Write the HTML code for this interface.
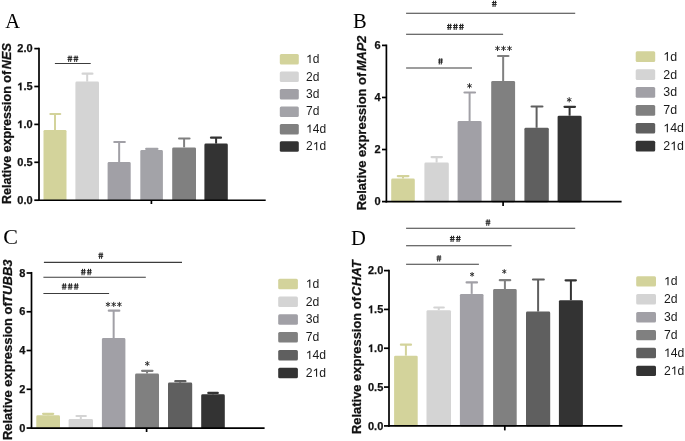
<!DOCTYPE html>
<html><head><meta charset="utf-8"><style>
html,body{margin:0;padding:0;background:#fff;}
svg{display:block;will-change:transform;}
</style></head><body>
<svg width="685" height="441" viewBox="0 0 685 441">
<rect x="0" y="0" width="685" height="441" fill="#fff"/>
<text transform="translate(5.20,28.00)" font-family='"Liberation Serif", serif' font-size="20.5" font-weight="normal" text-anchor="start" fill="#000" >A</text>
<rect x="43.50" y="129.90" width="23.00" height="70.95" fill="#d3d39b" rx="1.4"/>
<line x1="55.00" y1="129.90" x2="55.00" y2="114.00" stroke="#d3d39b" stroke-width="2.0"/>
<line x1="50.40" y1="114.00" x2="60.20" y2="114.00" stroke="#d3d39b" stroke-width="2.2" stroke-linecap="round"/>
<rect x="75.40" y="81.60" width="23.60" height="119.25" fill="#d4d4d4" rx="1.4"/>
<line x1="87.20" y1="81.60" x2="87.20" y2="73.70" stroke="#d4d4d4" stroke-width="2.0"/>
<line x1="82.60" y1="73.70" x2="92.40" y2="73.70" stroke="#d4d4d4" stroke-width="2.2" stroke-linecap="round"/>
<rect x="107.60" y="162.00" width="23.10" height="38.85" fill="#a1a0a6" rx="1.4"/>
<line x1="119.15" y1="162.00" x2="119.15" y2="142.00" stroke="#a1a0a6" stroke-width="2.0"/>
<line x1="114.30" y1="142.00" x2="124.80" y2="142.00" stroke="#a1a0a6" stroke-width="2.2" stroke-linecap="round"/>
<rect x="140.30" y="150.00" width="22.60" height="50.85" fill="#a3a3a8" rx="1.4"/>
<line x1="151.60" y1="150.00" x2="151.60" y2="148.90" stroke="#a3a3a8" stroke-width="2.0"/>
<line x1="146.20" y1="148.90" x2="157.40" y2="148.90" stroke="#a3a3a8" stroke-width="2.2" stroke-linecap="round"/>
<rect x="172.20" y="147.40" width="23.80" height="53.45" fill="#808080" rx="1.4"/>
<line x1="184.10" y1="147.40" x2="184.10" y2="138.50" stroke="#808080" stroke-width="2.0"/>
<line x1="179.10" y1="138.50" x2="189.50" y2="138.50" stroke="#808080" stroke-width="2.2" stroke-linecap="round"/>
<rect x="204.40" y="143.60" width="23.40" height="57.25" fill="#333333" rx="1.4"/>
<line x1="216.10" y1="143.60" x2="216.10" y2="137.70" stroke="#333333" stroke-width="2.0"/>
<line x1="211.00" y1="137.70" x2="221.00" y2="137.70" stroke="#333333" stroke-width="2.2" stroke-linecap="round"/>
<line x1="39.00" y1="47.65" x2="39.00" y2="201.10" stroke="#000" stroke-width="1.7"/>
<line x1="38.15" y1="200.25" x2="265.70" y2="200.25" stroke="#000" stroke-width="1.7"/>
<line x1="34.30" y1="48.60" x2="39.00" y2="48.60" stroke="#000" stroke-width="1.7"/>
<text transform="translate(32.60,52.30)" font-family='"Liberation Sans", sans-serif' font-size="11.0" font-weight="bold" text-anchor="end" fill="#111" stroke="#111" stroke-width="0.25">2.0</text>
<line x1="34.30" y1="86.50" x2="39.00" y2="86.50" stroke="#000" stroke-width="1.7"/>
<path transform="translate(32.60,90.20) translate(-15.292,0) scale(0.005371,-0.005371)" d="M775,0L495,0L495,1030L165,860L165,1110L560,1409L775,1409Z" fill="#111" stroke="#111" stroke-width="46.55"/>
<text transform="translate(32.60,90.20)" font-family='"Liberation Sans", sans-serif' font-size="11.0" font-weight="bold" text-anchor="end" fill="#111" stroke="#111" stroke-width="0.25"> .5</text>
<line x1="34.30" y1="124.40" x2="39.00" y2="124.40" stroke="#000" stroke-width="1.7"/>
<path transform="translate(32.60,128.10) translate(-15.292,0) scale(0.005371,-0.005371)" d="M775,0L495,0L495,1030L165,860L165,1110L560,1409L775,1409Z" fill="#111" stroke="#111" stroke-width="46.55"/>
<text transform="translate(32.60,128.10)" font-family='"Liberation Sans", sans-serif' font-size="11.0" font-weight="bold" text-anchor="end" fill="#111" stroke="#111" stroke-width="0.25"> .0</text>
<line x1="34.30" y1="162.30" x2="39.00" y2="162.30" stroke="#000" stroke-width="1.7"/>
<text transform="translate(32.60,166.00)" font-family='"Liberation Sans", sans-serif' font-size="11.0" font-weight="bold" text-anchor="end" fill="#111" stroke="#111" stroke-width="0.25">0.5</text>
<line x1="34.30" y1="200.20" x2="39.00" y2="200.20" stroke="#000" stroke-width="1.7"/>
<text transform="translate(32.60,203.90)" font-family='"Liberation Sans", sans-serif' font-size="11.0" font-weight="bold" text-anchor="end" fill="#111" stroke="#111" stroke-width="0.25">0.0</text>
<line x1="151.40" y1="200.25" x2="151.40" y2="204.00" stroke="#000" stroke-width="1.7"/>
<line x1="54.90" y1="63.50" x2="90.70" y2="63.50" stroke="#3c3c3c" stroke-width="1.1"/>
<path d="M69.20,55.60L68.60,61.90M71.20,55.60L70.60,61.90M75.20,55.60L74.60,61.90M77.20,55.60L76.60,61.90" stroke="#262626" stroke-width="1.05" fill="none"/>
<path d="M67.50,57.43L72.30,57.43M67.50,59.44L72.30,59.44M73.50,57.43L78.30,57.43M73.50,59.44L78.30,59.44" stroke="#262626" stroke-width="1.0" fill="none"/>
<rect x="279.80" y="54.10" width="19.00" height="10.50" fill="#d3d39b" rx="1.5"/>
<path transform="translate(306.10,63.05) translate(0.000,0) scale(0.005859,-0.005859)" d="M760,0L580,0L580,1140L218,930L218,1100L640,1409L760,1409Z" fill="#1a1a1a" />
<text transform="translate(306.10,63.05)" font-family='"Liberation Sans", sans-serif' font-size="12" font-weight="normal" text-anchor="start" fill="#1a1a1a" > d</text>
<rect x="279.80" y="71.55" width="19.00" height="10.50" fill="#d4d4d4" rx="1.5"/>
<text transform="translate(306.10,80.50)" font-family='"Liberation Sans", sans-serif' font-size="12" font-weight="normal" text-anchor="start" fill="#1a1a1a" >2d</text>
<rect x="279.80" y="89.00" width="19.00" height="10.50" fill="#a1a0a6" rx="1.5"/>
<text transform="translate(306.10,97.95)" font-family='"Liberation Sans", sans-serif' font-size="12" font-weight="normal" text-anchor="start" fill="#1a1a1a" >3d</text>
<rect x="279.80" y="106.45" width="19.00" height="10.50" fill="#a3a3a8" rx="1.5"/>
<text transform="translate(306.10,115.40)" font-family='"Liberation Sans", sans-serif' font-size="12" font-weight="normal" text-anchor="start" fill="#1a1a1a" >7d</text>
<rect x="279.80" y="123.90" width="19.00" height="10.50" fill="#808080" rx="1.5"/>
<path transform="translate(306.10,132.85) translate(0.000,0) scale(0.005859,-0.005859)" d="M760,0L580,0L580,1140L218,930L218,1100L640,1409L760,1409Z" fill="#1a1a1a" />
<text transform="translate(306.10,132.85)" font-family='"Liberation Sans", sans-serif' font-size="12" font-weight="normal" text-anchor="start" fill="#1a1a1a" > 4d</text>
<rect x="279.80" y="141.35" width="19.00" height="10.50" fill="#333333" rx="1.5"/>
<path transform="translate(306.10,150.30) translate(6.674,0) scale(0.005859,-0.005859)" d="M760,0L580,0L580,1140L218,930L218,1100L640,1409L760,1409Z" fill="#1a1a1a" />
<text transform="translate(306.10,150.30)" font-family='"Liberation Sans", sans-serif' font-size="12" font-weight="normal" text-anchor="start" fill="#1a1a1a" >2 d</text>
<text transform="translate(10.70,204.01) rotate(-90)" font-family='"Liberation Sans", sans-serif' font-size="12.56" font-weight="bold" fill="#111" stroke="#111" stroke-width="0.25">Relative expression of</text>
<text transform="translate(10.70,69.21) rotate(-90)" font-family='"Liberation Sans", sans-serif' font-size="12.68" font-weight="bold" font-style="italic" fill="#111" stroke="#111" stroke-width="0.25">NES</text>
<text transform="translate(353.00,27.50)" font-family='"Liberation Serif", serif' font-size="20.5" font-weight="normal" text-anchor="start" fill="#000" >B</text>
<rect x="391.20" y="178.60" width="23.60" height="23.60" fill="#d3d39b" rx="1.4"/>
<line x1="403.00" y1="178.60" x2="403.00" y2="176.10" stroke="#d3d39b" stroke-width="2.0"/>
<line x1="397.80" y1="176.10" x2="408.40" y2="176.10" stroke="#d3d39b" stroke-width="2.2" stroke-linecap="round"/>
<rect x="424.40" y="162.60" width="24.40" height="39.60" fill="#d4d4d4" rx="1.4"/>
<line x1="436.60" y1="162.60" x2="436.60" y2="157.10" stroke="#d4d4d4" stroke-width="2.0"/>
<line x1="431.60" y1="157.10" x2="441.90" y2="157.10" stroke="#d4d4d4" stroke-width="2.2" stroke-linecap="round"/>
<rect x="457.60" y="121.00" width="24.00" height="81.20" fill="#a1a0a6" rx="1.4"/>
<line x1="469.60" y1="121.00" x2="469.60" y2="92.50" stroke="#a1a0a6" stroke-width="2.0"/>
<line x1="464.50" y1="92.50" x2="475.00" y2="92.50" stroke="#a1a0a6" stroke-width="2.2" stroke-linecap="round"/>
<rect x="491.20" y="81.00" width="23.90" height="121.20" fill="#808080" rx="1.4"/>
<line x1="503.15" y1="81.00" x2="503.15" y2="56.00" stroke="#808080" stroke-width="2.0"/>
<line x1="498.00" y1="56.00" x2="508.40" y2="56.00" stroke="#808080" stroke-width="2.2" stroke-linecap="round"/>
<rect x="524.40" y="127.80" width="24.40" height="74.40" fill="#5f5f5f" rx="1.4"/>
<line x1="536.60" y1="127.80" x2="536.60" y2="106.50" stroke="#5f5f5f" stroke-width="2.0"/>
<line x1="531.60" y1="106.50" x2="542.40" y2="106.50" stroke="#5f5f5f" stroke-width="2.2" stroke-linecap="round"/>
<rect x="557.60" y="115.70" width="24.00" height="86.50" fill="#333333" rx="1.4"/>
<line x1="569.60" y1="115.70" x2="569.60" y2="106.80" stroke="#333333" stroke-width="2.0"/>
<line x1="564.50" y1="106.80" x2="575.00" y2="106.80" stroke="#333333" stroke-width="2.2" stroke-linecap="round"/>
<line x1="386.40" y1="44.55" x2="386.40" y2="202.45" stroke="#000" stroke-width="1.7"/>
<line x1="385.55" y1="201.60" x2="621.60" y2="201.60" stroke="#000" stroke-width="1.7"/>
<line x1="382.00" y1="45.40" x2="386.40" y2="45.40" stroke="#000" stroke-width="1.7"/>
<text transform="translate(380.70,49.10)" font-family='"Liberation Sans", sans-serif' font-size="11.0" font-weight="bold" text-anchor="end" fill="#111" stroke="#111" stroke-width="0.25">6</text>
<line x1="382.00" y1="97.47" x2="386.40" y2="97.47" stroke="#000" stroke-width="1.7"/>
<text transform="translate(380.70,101.17)" font-family='"Liberation Sans", sans-serif' font-size="11.0" font-weight="bold" text-anchor="end" fill="#111" stroke="#111" stroke-width="0.25">4</text>
<line x1="382.00" y1="149.53" x2="386.40" y2="149.53" stroke="#000" stroke-width="1.7"/>
<text transform="translate(380.70,153.23)" font-family='"Liberation Sans", sans-serif' font-size="11.0" font-weight="bold" text-anchor="end" fill="#111" stroke="#111" stroke-width="0.25">2</text>
<line x1="382.00" y1="201.60" x2="386.40" y2="201.60" stroke="#000" stroke-width="1.7"/>
<text transform="translate(380.70,205.30)" font-family='"Liberation Sans", sans-serif' font-size="11.0" font-weight="bold" text-anchor="end" fill="#111" stroke="#111" stroke-width="0.25">0</text>
<line x1="503.10" y1="201.60" x2="503.10" y2="206.00" stroke="#000" stroke-width="1.7"/>
<line x1="406.10" y1="13.20" x2="575.20" y2="13.20" stroke="#3c3c3c" stroke-width="1.1"/>
<line x1="406.10" y1="34.30" x2="503.10" y2="34.30" stroke="#3c3c3c" stroke-width="1.1"/>
<line x1="406.10" y1="68.00" x2="472.00" y2="68.00" stroke="#3c3c3c" stroke-width="1.1"/>
<path d="M493.60,0.70L493.00,7.00M495.60,0.70L495.00,7.00" stroke="#262626" stroke-width="1.05" fill="none"/>
<path d="M491.90,2.53L496.70,2.53M491.90,4.54L496.70,4.54" stroke="#262626" stroke-width="1.0" fill="none"/>
<path d="M448.70,23.70L448.10,30.00M450.70,23.70L450.10,30.00M454.70,23.70L454.10,30.00M456.70,23.70L456.10,30.00M460.70,23.70L460.10,30.00M462.70,23.70L462.10,30.00" stroke="#262626" stroke-width="1.05" fill="none"/>
<path d="M447.00,25.53L451.80,25.53M447.00,27.54L451.80,27.54M453.00,25.53L457.80,25.53M453.00,27.54L457.80,27.54M459.00,25.53L463.80,25.53M459.00,27.54L463.80,27.54" stroke="#262626" stroke-width="1.0" fill="none"/>
<path d="M439.80,58.20L439.20,64.50M441.80,58.20L441.20,64.50" stroke="#262626" stroke-width="1.05" fill="none"/>
<path d="M438.10,60.03L442.90,60.03M438.10,62.04L442.90,62.04" stroke="#262626" stroke-width="1.0" fill="none"/>
<path d="M469.50,83.20L469.50,88.40M467.25,84.50L471.75,87.10M471.75,84.50L467.25,87.10" stroke="#2a2a2a" stroke-width="0.95" fill="none"/>
<path d="M497.50,45.80L497.50,51.00M495.25,47.10L499.75,49.70M499.75,47.10L495.25,49.70" stroke="#2a2a2a" stroke-width="0.95" fill="none"/>
<path d="M503.50,45.80L503.50,51.00M501.25,47.10L505.75,49.70M505.75,47.10L501.25,49.70" stroke="#2a2a2a" stroke-width="0.95" fill="none"/>
<path d="M509.50,45.80L509.50,51.00M507.25,47.10L511.75,49.70M511.75,47.10L507.25,49.70" stroke="#2a2a2a" stroke-width="0.95" fill="none"/>
<path d="M569.20,97.20L569.20,102.40M566.95,98.50L571.45,101.10M571.45,98.50L566.95,101.10" stroke="#2a2a2a" stroke-width="0.95" fill="none"/>
<rect x="635.70" y="51.30" width="19.50" height="10.70" fill="#d3d39b" rx="1.5"/>
<path transform="translate(663.30,60.65) translate(0.000,0) scale(0.006055,-0.006055)" d="M760,0L580,0L580,1140L218,930L218,1100L640,1409L760,1409Z" fill="#1a1a1a" />
<text transform="translate(663.30,60.65)" font-family='"Liberation Sans", sans-serif' font-size="12.4" font-weight="normal" text-anchor="start" fill="#1a1a1a" > d</text>
<rect x="635.70" y="69.20" width="19.50" height="10.70" fill="#d4d4d4" rx="1.5"/>
<text transform="translate(663.30,78.55)" font-family='"Liberation Sans", sans-serif' font-size="12.4" font-weight="normal" text-anchor="start" fill="#1a1a1a" >2d</text>
<rect x="635.70" y="87.10" width="19.50" height="10.70" fill="#a1a0a6" rx="1.5"/>
<text transform="translate(663.30,96.45)" font-family='"Liberation Sans", sans-serif' font-size="12.4" font-weight="normal" text-anchor="start" fill="#1a1a1a" >3d</text>
<rect x="635.70" y="105.00" width="19.50" height="10.70" fill="#808080" rx="1.5"/>
<text transform="translate(663.30,114.35)" font-family='"Liberation Sans", sans-serif' font-size="12.4" font-weight="normal" text-anchor="start" fill="#1a1a1a" >7d</text>
<rect x="635.70" y="122.90" width="19.50" height="10.70" fill="#5f5f5f" rx="1.5"/>
<path transform="translate(663.30,132.25) translate(0.000,0) scale(0.006055,-0.006055)" d="M760,0L580,0L580,1140L218,930L218,1100L640,1409L760,1409Z" fill="#1a1a1a" />
<text transform="translate(663.30,132.25)" font-family='"Liberation Sans", sans-serif' font-size="12.4" font-weight="normal" text-anchor="start" fill="#1a1a1a" > 4d</text>
<rect x="635.70" y="140.80" width="19.50" height="10.70" fill="#333333" rx="1.5"/>
<path transform="translate(663.30,150.15) translate(6.896,0) scale(0.006055,-0.006055)" d="M760,0L580,0L580,1140L218,930L218,1100L640,1409L760,1409Z" fill="#1a1a1a" />
<text transform="translate(663.30,150.15)" font-family='"Liberation Sans", sans-serif' font-size="12.4" font-weight="normal" text-anchor="start" fill="#1a1a1a" >2 d</text>
<text transform="translate(366.40,210.32) rotate(-90)" font-family='"Liberation Sans", sans-serif' font-size="12.97" font-weight="bold" fill="#111" stroke="#111" stroke-width="0.25">Relative expression of</text>
<text transform="translate(366.40,71.12) rotate(-90)" font-family='"Liberation Sans", sans-serif' font-size="12.78" font-weight="bold" font-style="italic" fill="#111" stroke="#111" stroke-width="0.25">MAP2</text>
<text transform="translate(3.30,244.40)" font-family='"Liberation Serif", serif' font-size="22" font-weight="normal" text-anchor="start" fill="#000" >C</text>
<rect x="36.30" y="415.30" width="23.70" height="13.35" fill="#d3d39b" rx="1.4"/>
<line x1="48.15" y1="415.30" x2="48.15" y2="413.80" stroke="#d3d39b" stroke-width="2.0"/>
<line x1="43.10" y1="413.80" x2="53.20" y2="413.80" stroke="#d3d39b" stroke-width="2.2" stroke-linecap="round"/>
<rect x="68.60" y="419.00" width="24.40" height="9.65" fill="#d4d4d4" rx="1.4"/>
<line x1="80.80" y1="419.00" x2="80.80" y2="416.00" stroke="#d4d4d4" stroke-width="2.0"/>
<line x1="76.50" y1="416.00" x2="85.80" y2="416.00" stroke="#d4d4d4" stroke-width="2.2" stroke-linecap="round"/>
<rect x="101.90" y="338.00" width="23.50" height="90.65" fill="#a1a0a6" rx="1.4"/>
<line x1="113.65" y1="338.00" x2="113.65" y2="310.70" stroke="#a1a0a6" stroke-width="2.0"/>
<line x1="108.80" y1="310.70" x2="119.30" y2="310.70" stroke="#a1a0a6" stroke-width="2.2" stroke-linecap="round"/>
<rect x="135.10" y="373.50" width="23.90" height="55.15" fill="#808080" rx="1.4"/>
<line x1="147.05" y1="373.50" x2="147.05" y2="370.80" stroke="#808080" stroke-width="2.0"/>
<line x1="142.10" y1="370.80" x2="152.50" y2="370.80" stroke="#808080" stroke-width="2.2" stroke-linecap="round"/>
<rect x="168.00" y="382.60" width="24.20" height="46.05" fill="#5f5f5f" rx="1.4"/>
<line x1="180.10" y1="382.60" x2="180.10" y2="381.20" stroke="#5f5f5f" stroke-width="2.0"/>
<line x1="175.30" y1="381.20" x2="185.40" y2="381.20" stroke="#5f5f5f" stroke-width="2.2" stroke-linecap="round"/>
<rect x="201.20" y="394.30" width="23.60" height="34.35" fill="#333333" rx="1.4"/>
<line x1="213.00" y1="394.30" x2="213.00" y2="392.90" stroke="#333333" stroke-width="2.0"/>
<line x1="208.30" y1="392.90" x2="217.80" y2="392.90" stroke="#333333" stroke-width="2.2" stroke-linecap="round"/>
<line x1="31.50" y1="271.95" x2="31.50" y2="428.90" stroke="#000" stroke-width="1.7"/>
<line x1="30.65" y1="428.05" x2="264.60" y2="428.05" stroke="#000" stroke-width="1.7"/>
<line x1="26.60" y1="273.00" x2="31.50" y2="273.00" stroke="#000" stroke-width="1.7"/>
<text transform="translate(25.40,276.70)" font-family='"Liberation Sans", sans-serif' font-size="11.0" font-weight="bold" text-anchor="end" fill="#111" stroke="#111" stroke-width="0.25">8</text>
<line x1="26.60" y1="311.76" x2="31.50" y2="311.76" stroke="#000" stroke-width="1.7"/>
<text transform="translate(25.40,315.46)" font-family='"Liberation Sans", sans-serif' font-size="11.0" font-weight="bold" text-anchor="end" fill="#111" stroke="#111" stroke-width="0.25">6</text>
<line x1="26.60" y1="350.52" x2="31.50" y2="350.52" stroke="#000" stroke-width="1.7"/>
<text transform="translate(25.40,354.22)" font-family='"Liberation Sans", sans-serif' font-size="11.0" font-weight="bold" text-anchor="end" fill="#111" stroke="#111" stroke-width="0.25">4</text>
<line x1="26.60" y1="389.29" x2="31.50" y2="389.29" stroke="#000" stroke-width="1.7"/>
<text transform="translate(25.40,392.99)" font-family='"Liberation Sans", sans-serif' font-size="11.0" font-weight="bold" text-anchor="end" fill="#111" stroke="#111" stroke-width="0.25">2</text>
<line x1="26.60" y1="428.05" x2="31.50" y2="428.05" stroke="#000" stroke-width="1.7"/>
<text transform="translate(25.40,431.75)" font-family='"Liberation Sans", sans-serif' font-size="11.0" font-weight="bold" text-anchor="end" fill="#111" stroke="#111" stroke-width="0.25">0</text>
<line x1="146.60" y1="428.05" x2="146.60" y2="432.00" stroke="#000" stroke-width="1.7"/>
<line x1="43.90" y1="262.40" x2="182.00" y2="262.40" stroke="#3c3c3c" stroke-width="1.1"/>
<line x1="43.40" y1="277.20" x2="145.80" y2="277.20" stroke="#3c3c3c" stroke-width="1.1"/>
<line x1="43.40" y1="293.50" x2="109.10" y2="293.50" stroke="#3c3c3c" stroke-width="1.1"/>
<path d="M100.10,252.50L99.50,258.80M102.10,252.50L101.50,258.80" stroke="#262626" stroke-width="1.05" fill="none"/>
<path d="M98.40,254.33L103.20,254.33M98.40,256.34L103.20,256.34" stroke="#262626" stroke-width="1.0" fill="none"/>
<path d="M82.60,268.90L82.00,275.20M84.60,268.90L84.00,275.20M88.60,268.90L88.00,275.20M90.60,268.90L90.00,275.20" stroke="#262626" stroke-width="1.05" fill="none"/>
<path d="M80.90,270.73L85.70,270.73M80.90,272.74L85.70,272.74M86.90,270.73L91.70,270.73M86.90,272.74L91.70,272.74" stroke="#262626" stroke-width="1.0" fill="none"/>
<path d="M63.50,283.40L62.90,289.70M65.50,283.40L64.90,289.70M69.50,283.40L68.90,289.70M71.50,283.40L70.90,289.70M75.50,283.40L74.90,289.70M77.50,283.40L76.90,289.70" stroke="#262626" stroke-width="1.05" fill="none"/>
<path d="M61.80,285.23L66.60,285.23M61.80,287.24L66.60,287.24M67.80,285.23L72.60,285.23M67.80,287.24L72.60,287.24M73.80,285.23L78.60,285.23M73.80,287.24L78.60,287.24" stroke="#262626" stroke-width="1.0" fill="none"/>
<path d="M108.00,301.90L108.00,306.90M105.83,303.15L110.17,305.65M110.17,303.15L105.83,305.65" stroke="#2a2a2a" stroke-width="0.95" fill="none"/>
<path d="M113.70,301.90L113.70,306.90M111.53,303.15L115.87,305.65M115.87,303.15L111.53,305.65" stroke="#2a2a2a" stroke-width="0.95" fill="none"/>
<path d="M119.40,301.90L119.40,306.90M117.23,303.15L121.57,305.65M121.57,303.15L117.23,305.65" stroke="#2a2a2a" stroke-width="0.95" fill="none"/>
<path d="M147.30,361.10L147.30,366.10M145.13,362.35L149.47,364.85M149.47,362.35L145.13,364.85" stroke="#2a2a2a" stroke-width="0.95" fill="none"/>
<rect x="278.20" y="278.70" width="19.70" height="10.50" fill="#d3d39b" rx="1.5"/>
<path transform="translate(305.80,287.85) translate(0.000,0) scale(0.005957,-0.005957)" d="M760,0L580,0L580,1140L218,930L218,1100L640,1409L760,1409Z" fill="#1a1a1a" />
<text transform="translate(305.80,287.85)" font-family='"Liberation Sans", sans-serif' font-size="12.2" font-weight="normal" text-anchor="start" fill="#1a1a1a" > d</text>
<rect x="278.20" y="296.50" width="19.70" height="10.50" fill="#d4d4d4" rx="1.5"/>
<text transform="translate(305.80,305.65)" font-family='"Liberation Sans", sans-serif' font-size="12.2" font-weight="normal" text-anchor="start" fill="#1a1a1a" >2d</text>
<rect x="278.20" y="314.30" width="19.70" height="10.50" fill="#a1a0a6" rx="1.5"/>
<text transform="translate(305.80,323.45)" font-family='"Liberation Sans", sans-serif' font-size="12.2" font-weight="normal" text-anchor="start" fill="#1a1a1a" >3d</text>
<rect x="278.20" y="332.10" width="19.70" height="10.50" fill="#808080" rx="1.5"/>
<text transform="translate(305.80,341.25)" font-family='"Liberation Sans", sans-serif' font-size="12.2" font-weight="normal" text-anchor="start" fill="#1a1a1a" >7d</text>
<rect x="278.20" y="349.90" width="19.70" height="10.50" fill="#5f5f5f" rx="1.5"/>
<path transform="translate(305.80,359.05) translate(0.000,0) scale(0.005957,-0.005957)" d="M760,0L580,0L580,1140L218,930L218,1100L640,1409L760,1409Z" fill="#1a1a1a" />
<text transform="translate(305.80,359.05)" font-family='"Liberation Sans", sans-serif' font-size="12.2" font-weight="normal" text-anchor="start" fill="#1a1a1a" > 4d</text>
<rect x="278.20" y="367.70" width="19.70" height="10.50" fill="#333333" rx="1.5"/>
<path transform="translate(305.80,376.85) translate(6.785,0) scale(0.005957,-0.005957)" d="M760,0L580,0L580,1140L218,930L218,1100L640,1409L760,1409Z" fill="#1a1a1a" />
<text transform="translate(305.80,376.85)" font-family='"Liberation Sans", sans-serif' font-size="12.2" font-weight="normal" text-anchor="start" fill="#1a1a1a" >2 d</text>
<text transform="translate(11.90,440.12) rotate(-90)" font-family='"Liberation Sans", sans-serif' font-size="12.99" font-weight="bold" fill="#111" stroke="#111" stroke-width="0.25">Relative expression of</text>
<text transform="translate(11.90,303.00) rotate(-90)" font-family='"Liberation Sans", sans-serif' font-size="13.08" font-weight="bold" font-style="italic" fill="#111" stroke="#111" stroke-width="0.25">TUBB3</text>
<text transform="translate(351.00,245.20)" font-family='"Liberation Serif", serif' font-size="20.5" font-weight="normal" text-anchor="start" fill="#000" >D</text>
<rect x="394.10" y="355.70" width="23.60" height="70.80" fill="#d3d39b" rx="1.4"/>
<line x1="405.90" y1="355.70" x2="405.90" y2="344.70" stroke="#d3d39b" stroke-width="2.0"/>
<line x1="400.90" y1="344.70" x2="411.00" y2="344.70" stroke="#d3d39b" stroke-width="2.2" stroke-linecap="round"/>
<rect x="426.50" y="310.20" width="24.50" height="116.30" fill="#d4d4d4" rx="1.4"/>
<line x1="438.75" y1="310.20" x2="438.75" y2="307.50" stroke="#d4d4d4" stroke-width="2.0"/>
<line x1="434.30" y1="307.50" x2="443.80" y2="307.50" stroke="#d4d4d4" stroke-width="2.2" stroke-linecap="round"/>
<rect x="459.90" y="293.90" width="23.60" height="132.60" fill="#a1a0a6" rx="1.4"/>
<line x1="471.70" y1="293.90" x2="471.70" y2="282.40" stroke="#a1a0a6" stroke-width="2.0"/>
<line x1="466.60" y1="282.40" x2="477.00" y2="282.40" stroke="#a1a0a6" stroke-width="2.2" stroke-linecap="round"/>
<rect x="493.10" y="289.00" width="23.60" height="137.50" fill="#808080" rx="1.4"/>
<line x1="504.90" y1="289.00" x2="504.90" y2="280.20" stroke="#808080" stroke-width="2.0"/>
<line x1="499.80" y1="280.20" x2="510.20" y2="280.20" stroke="#808080" stroke-width="2.2" stroke-linecap="round"/>
<rect x="526.00" y="311.60" width="24.20" height="114.90" fill="#5f5f5f" rx="1.4"/>
<line x1="538.10" y1="311.60" x2="538.10" y2="279.50" stroke="#5f5f5f" stroke-width="2.0"/>
<line x1="533.00" y1="279.50" x2="543.80" y2="279.50" stroke="#5f5f5f" stroke-width="2.2" stroke-linecap="round"/>
<rect x="558.90" y="300.20" width="24.00" height="126.30" fill="#333333" rx="1.4"/>
<line x1="570.90" y1="300.20" x2="570.90" y2="280.30" stroke="#333333" stroke-width="2.0"/>
<line x1="565.60" y1="280.30" x2="575.90" y2="280.30" stroke="#333333" stroke-width="2.2" stroke-linecap="round"/>
<line x1="389.00" y1="269.75" x2="389.00" y2="426.75" stroke="#000" stroke-width="1.7"/>
<line x1="388.15" y1="425.90" x2="622.40" y2="425.90" stroke="#000" stroke-width="1.7"/>
<line x1="384.00" y1="270.60" x2="389.00" y2="270.60" stroke="#000" stroke-width="1.7"/>
<text transform="translate(383.30,274.30)" font-family='"Liberation Sans", sans-serif' font-size="11.0" font-weight="bold" text-anchor="end" fill="#111" stroke="#111" stroke-width="0.25">2.0</text>
<line x1="384.00" y1="309.43" x2="389.00" y2="309.43" stroke="#000" stroke-width="1.7"/>
<path transform="translate(383.30,313.13) translate(-15.292,0) scale(0.005371,-0.005371)" d="M775,0L495,0L495,1030L165,860L165,1110L560,1409L775,1409Z" fill="#111" stroke="#111" stroke-width="46.55"/>
<text transform="translate(383.30,313.13)" font-family='"Liberation Sans", sans-serif' font-size="11.0" font-weight="bold" text-anchor="end" fill="#111" stroke="#111" stroke-width="0.25"> .5</text>
<line x1="384.00" y1="348.25" x2="389.00" y2="348.25" stroke="#000" stroke-width="1.7"/>
<path transform="translate(383.30,351.95) translate(-15.292,0) scale(0.005371,-0.005371)" d="M775,0L495,0L495,1030L165,860L165,1110L560,1409L775,1409Z" fill="#111" stroke="#111" stroke-width="46.55"/>
<text transform="translate(383.30,351.95)" font-family='"Liberation Sans", sans-serif' font-size="11.0" font-weight="bold" text-anchor="end" fill="#111" stroke="#111" stroke-width="0.25"> .0</text>
<line x1="384.00" y1="387.07" x2="389.00" y2="387.07" stroke="#000" stroke-width="1.7"/>
<text transform="translate(383.30,390.77)" font-family='"Liberation Sans", sans-serif' font-size="11.0" font-weight="bold" text-anchor="end" fill="#111" stroke="#111" stroke-width="0.25">0.5</text>
<line x1="384.00" y1="425.90" x2="389.00" y2="425.90" stroke="#000" stroke-width="1.7"/>
<text transform="translate(383.30,429.60)" font-family='"Liberation Sans", sans-serif' font-size="11.0" font-weight="bold" text-anchor="end" fill="#111" stroke="#111" stroke-width="0.25">0.0</text>
<line x1="504.80" y1="425.90" x2="504.80" y2="430.40" stroke="#000" stroke-width="1.7"/>
<line x1="406.10" y1="228.30" x2="575.20" y2="228.30" stroke="#3c3c3c" stroke-width="1.1"/>
<line x1="406.10" y1="245.70" x2="511.60" y2="245.70" stroke="#3c3c3c" stroke-width="1.1"/>
<line x1="406.10" y1="264.30" x2="478.90" y2="264.30" stroke="#3c3c3c" stroke-width="1.1"/>
<path d="M487.30,219.40L486.70,225.70M489.30,219.40L488.70,225.70" stroke="#262626" stroke-width="1.05" fill="none"/>
<path d="M485.60,221.23L490.40,221.23M485.60,223.24L490.40,223.24" stroke="#262626" stroke-width="1.0" fill="none"/>
<path d="M451.60,235.70L451.00,242.00M453.60,235.70L453.00,242.00M457.60,235.70L457.00,242.00M459.60,235.70L459.00,242.00" stroke="#262626" stroke-width="1.05" fill="none"/>
<path d="M449.90,237.53L454.70,237.53M449.90,239.54L454.70,239.54M455.90,237.53L460.70,237.53M455.90,239.54L460.70,239.54" stroke="#262626" stroke-width="1.0" fill="none"/>
<path d="M438.20,255.20L437.60,261.50M440.20,255.20L439.60,261.50" stroke="#262626" stroke-width="1.05" fill="none"/>
<path d="M436.50,257.03L441.30,257.03M436.50,259.04L441.30,259.04" stroke="#262626" stroke-width="1.0" fill="none"/>
<path d="M472.10,272.10L472.10,276.70M470.11,273.25L474.09,275.55M474.09,273.25L470.11,275.55" stroke="#2a2a2a" stroke-width="0.95" fill="none"/>
<path d="M504.30,269.20L504.30,273.80M502.31,270.35L506.29,272.65M506.29,270.35L502.31,272.65" stroke="#2a2a2a" stroke-width="0.95" fill="none"/>
<rect x="636.20" y="276.20" width="19.80" height="10.40" fill="#d3d39b" rx="1.5"/>
<path transform="translate(664.00,285.30) translate(0.000,0) scale(0.005957,-0.005957)" d="M760,0L580,0L580,1140L218,930L218,1100L640,1409L760,1409Z" fill="#1a1a1a" />
<text transform="translate(664.00,285.30)" font-family='"Liberation Sans", sans-serif' font-size="12.2" font-weight="normal" text-anchor="start" fill="#1a1a1a" > d</text>
<rect x="636.20" y="294.10" width="19.80" height="10.40" fill="#d4d4d4" rx="1.5"/>
<text transform="translate(664.00,303.20)" font-family='"Liberation Sans", sans-serif' font-size="12.2" font-weight="normal" text-anchor="start" fill="#1a1a1a" >2d</text>
<rect x="636.20" y="312.00" width="19.80" height="10.40" fill="#a1a0a6" rx="1.5"/>
<text transform="translate(664.00,321.10)" font-family='"Liberation Sans", sans-serif' font-size="12.2" font-weight="normal" text-anchor="start" fill="#1a1a1a" >3d</text>
<rect x="636.20" y="329.90" width="19.80" height="10.40" fill="#808080" rx="1.5"/>
<text transform="translate(664.00,339.00)" font-family='"Liberation Sans", sans-serif' font-size="12.2" font-weight="normal" text-anchor="start" fill="#1a1a1a" >7d</text>
<rect x="636.20" y="347.80" width="19.80" height="10.40" fill="#5f5f5f" rx="1.5"/>
<path transform="translate(664.00,356.90) translate(0.000,0) scale(0.005957,-0.005957)" d="M760,0L580,0L580,1140L218,930L218,1100L640,1409L760,1409Z" fill="#1a1a1a" />
<text transform="translate(664.00,356.90)" font-family='"Liberation Sans", sans-serif' font-size="12.2" font-weight="normal" text-anchor="start" fill="#1a1a1a" > 4d</text>
<rect x="636.20" y="365.70" width="19.80" height="10.40" fill="#333333" rx="1.5"/>
<path transform="translate(664.00,374.80) translate(6.785,0) scale(0.005957,-0.005957)" d="M760,0L580,0L580,1140L218,930L218,1100L640,1409L760,1409Z" fill="#1a1a1a" />
<text transform="translate(664.00,374.80)" font-family='"Liberation Sans", sans-serif' font-size="12.2" font-weight="normal" text-anchor="start" fill="#1a1a1a" >2 d</text>
<text transform="translate(360.70,434.01) rotate(-90)" font-family='"Liberation Sans", sans-serif' font-size="12.91" font-weight="bold" fill="#111" stroke="#111" stroke-width="0.25">Relative expression of</text>
<text transform="translate(360.70,295.97) rotate(-90)" font-family='"Liberation Sans", sans-serif' font-size="13.31" font-weight="bold" font-style="italic" fill="#111" stroke="#111" stroke-width="0.25">CHAT</text>
</svg>
</body></html>
